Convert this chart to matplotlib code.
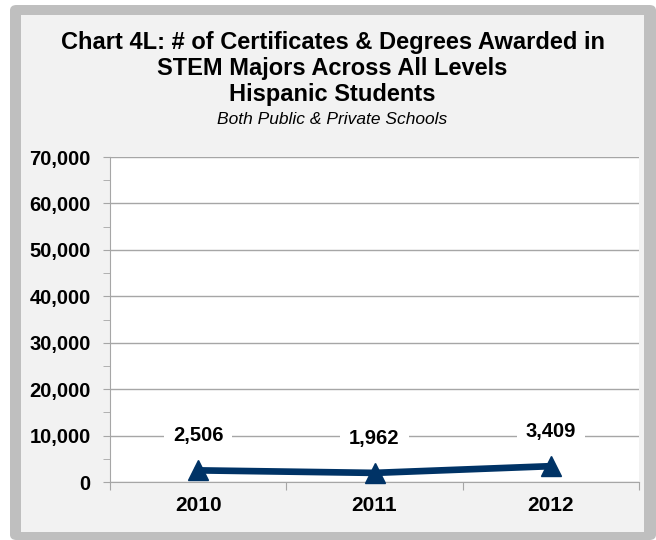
import matplotlib.pyplot as plt
from matplotlib.patches import FancyBboxPatch, Rectangle
from matplotlib.ticker import MultipleLocator, FuncFormatter

plt.rcParams['font.family'] = ['Liberation Sans', 'DejaVu Sans']

years = ['2010', '2011', '2012']
awards = [2506, 1962, 3409]
award_labels = ['2,506', '1,962', '3,409']

fig = plt.figure(figsize=(6.56, 5.4), dpi=100)
fig.patch.set_facecolor('white')

# outer gray frame and light panel
fig.patches.append(FancyBboxPatch((10 / 656, 0), 646 / 656, 535 / 540,
                                  boxstyle='round,pad=0,rounding_size=0.01',
                                  transform=fig.transFigure, facecolor='#bfbfbf',
                                  edgecolor='none', zorder=-2))
fig.patches.append(Rectangle((21 / 656, 8 / 540), 623 / 656, 517 / 540,
                             transform=fig.transFigure, facecolor='#f2f2f2',
                             edgecolor='none', zorder=-1))

ax = fig.add_axes([110 / 656, 58 / 540, 529 / 656, 325 / 540])
ax.set_facecolor('white')

x = list(range(len(years)))
ax.plot(x, awards, color='#003366', lw=4.8, marker='^', ms=15, zorder=3,
        clip_on=False)
for xi, v, lab in zip(x, awards, award_labels):
    ax.annotate(lab, (xi, v), xytext=(0, 25), textcoords='offset points',
                ha='center', va='center', fontsize=14.5, fontweight='bold',
                bbox=dict(facecolor='white', edgecolor='none', pad=6.5),
                zorder=4)

ax.set_ylim(0, 70000)
ax.set_xlim(-0.5, 2.5)
ax.yaxis.set_major_locator(MultipleLocator(10000))
ax.yaxis.set_minor_locator(MultipleLocator(5000))
ax.yaxis.set_major_formatter(FuncFormatter(lambda v, p: f'{int(v):,}'))
ax.grid(axis='y', color='#a6a6a6', lw=1, zorder=0)
ax.set_axisbelow(True)

ax.set_xticks([-0.5, 0.5, 1.5, 2.5])
ax.set_xticklabels([])
ax.set_xticks(x, minor=True)
ax.set_xticklabels(years, minor=True)
ax.tick_params(axis='x', which='major', length=6, color='#a6a6a6', direction='out')
ax.tick_params(axis='x', which='minor', length=0, pad=10, labelsize=15)
ax.tick_params(axis='y', which='both', length=5, color='#a6a6a6', pad=9,
               labelsize=14.5)
for lab in ax.get_xticklabels(minor=True) + ax.get_yticklabels():
    lab.set_fontweight('bold')

for s in ['top', 'right']:
    ax.spines[s].set_visible(False)
for s in ['left', 'bottom']:
    ax.spines[s].set_color('#a6a6a6')

fig.text(0.507, 1 - 43 / 540, 'Chart 4L: # of Certificates & Degrees Awarded in',
         ha='center', va='center', fontsize=17, fontweight='bold')
fig.text(0.507, 1 - 68 / 540, 'STEM Majors Across All Levels',
         ha='center', va='center', fontsize=17, fontweight='bold')
fig.text(0.507, 1 - 94 / 540, 'Hispanic Students',
         ha='center', va='center', fontsize=17, fontweight='bold')
fig.text(0.507, 1 - 119 / 540, 'Both Public & Private Schools',
         ha='center', va='center', fontsize=12.5, style='italic')

fig.savefig('out.png', dpi=100)
